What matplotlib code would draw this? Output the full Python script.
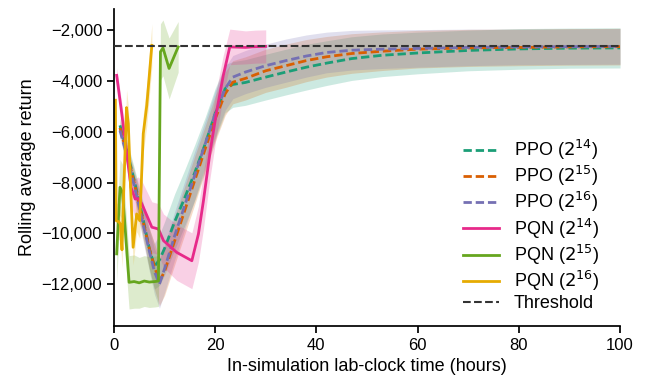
import numpy as np
import matplotlib
matplotlib.use("Agg")
import matplotlib.pyplot as plt
from matplotlib.ticker import FuncFormatter

plt.rcParams['font.family'] = ['Liberation Sans', 'DejaVu Sans']

# ---------------- data ----------------
ppo_hours = [1.2, 2.5, 4, 5.5, 7, 8, 9, 10, 12, 14, 16, 18, 20, 22, 23.5, 26, 30, 34, 38,
             42, 47, 53, 60, 70, 80, 90, 100]
ppo14_mean = [-5750, -6700, -7900, -9200, -10600, -11300, -11050, -10600, -9550, -8600, -7600,
              -6500, -5300, -4300, -4140, -4060, -3850, -3650, -3460, -3300, -3120, -2990,
              -2900, -2800, -2740, -2710, -2700]
ppo14_spread = [300, 400, 500, 650, 800, 900, 1000, 1050, 1100, 1100, 1100, 1050, 1000, 950,
                900, 900, 900, 900, 900, 880, 860, 840, 820, 800, 800, 790, 790]
ppo15_mean = [-5850, -6800, -8000, -9300, -10600, -11300, -11900, -11500, -10300, -9100, -7900,
              -6700, -5500, -4500, -4050, -3900, -3600, -3400, -3200, -3050, -2920, -2830,
              -2750, -2700, -2680, -2660, -2650]
ppo15_spread = [300, 400, 500, 650, 800, 900, 950, 950, 950, 950, 950, 900, 900, 850,
                850, 850, 850, 850, 830, 800, 780, 760, 740, 730, 720, 720, 720]
ppo16_mean = [-5950, -6900, -8100, -9400, -10700, -11500, -12000, -11400, -10100, -8900, -7700,
              -6500, -5300, -4300, -3850, -3650, -3400, -3200, -3020, -2880, -2790, -2750,
              -2720, -2680, -2660, -2650, -2640]
ppo16_spread = [300, 400, 500, 650, 800, 900, 950, 950, 950, 950, 950, 900, 900, 850,
                850, 850, 850, 850, 830, 800, 780, 760, 740, 720, 700, 700, 700]

pqn14_hours = [0.55, 1.5, 2.5, 3.4, 4.2, 4.8, 5.5, 7.5, 8.8, 9.8, 12.4, 15.4, 16.7, 17.7,
               19.0, 20.3, 21.6, 22.9, 26, 28, 30]
pqn14_mean = [-3780, -5200, -6800, -8200, -8650, -8630, -8830, -9760, -9830, -10290, -10750,
              -11080, -10030, -8710, -6800, -5200, -3800, -2660, -2680, -2650, -2640]
pqn14_spread = [300, 400, 500, 700, 800, 850, 900, 1000, 1000, 1050, 1100, 1100, 1100, 1100,
                1000, 900, 800, 700, 650, 650, 650]

pqn15_hours = [0.55, 1.2, 1.7, 2.3, 3.0, 4.0, 5.0, 6.0, 7.0, 8.1, 8.8, 9.2, 9.7, 10.9, 12.7]
pqn15_mean = [-10810, -8190, -8380, -10000, -11930, -11900, -11950, -11880, -11920, -11900,
              -11880, -2850, -2700, -3510, -2660]
pqn15_spread = [1100, 1100, 1100, 1100, 1050, 1050, 1000, 1000, 1000, 1000, 1000, 1100,
                1100, 1200, 1000]

pqn16_hours = [0.3, 0.45, 1.0, 1.3, 1.6, 2.0, 2.5, 2.85, 3.3, 3.8, 4.5, 5.1, 5.4, 5.8,
               6.5, 7.5]
pqn16_mean = [-4760, -9500, -9550, -9650, -10650, -8000, -5050, -5680, -8200, -10550, -9240,
              -9500, -8100, -6080, -4960, -2600]
pqn16_spread = [600, 700, 700, 700, 700, 700, 700, 700, 700, 700, 700, 700, 700, 750,
                800, 850]

threshold = -2620

labels = ['PPO ($2^{14}$)', 'PPO ($2^{15}$)', 'PPO ($2^{16}$)',
          'PQN ($2^{14}$)', 'PQN ($2^{15}$)', 'PQN ($2^{16}$)']
colors = ['#1b9e77', '#d95f02', '#7570b3', '#e7298a', '#66a61e', '#e6ab02']

# ---------------- plot ----------------
fig = plt.figure(figsize=(6.46, 3.88), dpi=100)
ax = fig.add_axes([0.1763, 0.1598, 0.7835, 0.8162])

series = [
    (ppo_hours, ppo14_mean, ppo14_spread, '--'),
    (ppo_hours, ppo15_mean, ppo15_spread, '--'),
    (ppo_hours, ppo16_mean, ppo16_spread, '--'),
    (pqn14_hours, pqn14_mean, pqn14_spread, '-'),
    (pqn15_hours, pqn15_mean, pqn15_spread, '-'),
    (pqn16_hours, pqn16_mean, pqn16_spread, '-'),
]

for (x, m, s, ls), lab, c in zip(series, labels, colors):
    x = np.asarray(x, float)
    m = np.asarray(m, float)
    s = np.asarray(s, float)
    ax.fill_between(x, m - s, m + s, color=c, alpha=0.22, linewidth=0)

for (x, m, s, ls), lab, c in zip(series, labels, colors):
    if ls == '--':
        ax.plot(x, m, color=c, lw=2, linestyle=(0, (3.0, 1.4)), label=lab)
    else:
        ax.plot(x, m, color=c, lw=2, linestyle='-', label=lab)

ax.axhline(threshold, color='#333333', lw=1.5, linestyle='--', label='Threshold', zorder=5)

ax.set_xlim(0, 100)
ax.set_ylim(-13650, -1180)
ax.set_xticks([0, 20, 40, 60, 80, 100])
ax.set_yticks([-12000, -10000, -8000, -6000, -4000, -2000])
ax.yaxis.set_major_formatter(FuncFormatter(lambda v, p: f"{v:,.0f}".replace('-', '\u2212')))

for sp in ['top', 'right']:
    ax.spines[sp].set_visible(False)
for sp in ['left', 'bottom']:
    ax.spines[sp].set_linewidth(1.25)
ax.tick_params(axis='both', labelsize=12, width=1.25, length=5, direction='out')

ax.set_xlabel('In-simulation lab-clock time (hours)', fontsize=13)
ax.set_ylabel('Rolling average return', fontsize=13)

ax.legend(loc='lower right', bbox_to_anchor=(0.985, 0.0), frameon=False, fontsize=13,
          handlelength=2.0, handletextpad=0.8, labelspacing=0.12, borderaxespad=0.35)

fig.savefig('out.png', dpi=100)
